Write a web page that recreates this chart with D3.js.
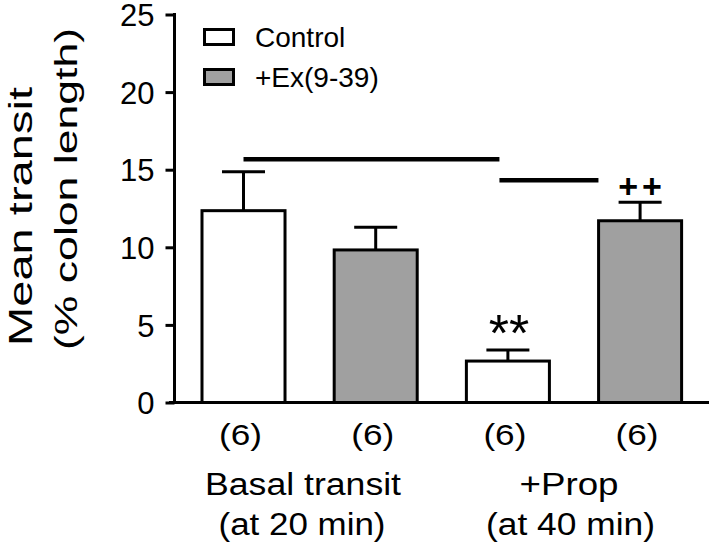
<!DOCTYPE html>
<html><head><meta charset="utf-8">
<script src="https://cdn.jsdelivr.net/npm/d3@7/dist/d3.min.js"></script>
<style>
html,body{margin:0;padding:0;background:#fff;}
svg text{font-family:"Liberation Sans",Arial,Helvetica,sans-serif;fill:#000;}
</style></head>
<body><svg id="c" width="709" height="545"></svg>
<script>
// ---- data ----
const categories = ["Basal-Control", "Basal-Ex", "Prop-Control", "Prop-Ex"];
const groups = ["Control", "+Ex(9-39)", "Control", "+Ex(9-39)"];
const means = [12.36, 9.83, 2.67, 11.71];
const sems = [2.51, 1.46, 0.71, 1.19];
const nLabels = ["(6)", "(6)", "(6)", "(6)"];
const yTicks = [0, 5, 10, 15, 20, 25];
const groupLabels1 = ["Basal transit", "+Prop"];
const groupLabels2 = ["(at 20 min)", "(at 40 min)"];
const legendLabels = ["Control", "+Ex(9-39)"];
const markers = ["", "", "**", "++"];
// significance bars: [from position, to position, y value] (positions in category units, 0 = first bar centre)
const sigFrom = [0, 1.936];
const sigTo = [1.936, 2.685];
const sigY = [15.67, 14.32];

const svg = d3.select("#c");
const fillColor = d3.scaleOrdinal().domain(legendLabels).range(["#ffffff", "#a0a0a0"]);

const x = d3.scaleBand().domain(categories).range([174.5, 709.1]).paddingInner(0.372).paddingOuter(0.208);
const y = d3.scaleLinear().domain([0, 25]).range([402.5, 14.5]);
const bw = x.bandwidth();
const cx = c => x(c) + bw / 2;
const posX = d3.scaleLinear().domain([0, 1]).range([cx(categories[0]), cx(categories[1])]);

// y axis
const yAxis = d3.axisLeft(y).tickValues(yTicks).tickSize(9).tickPadding(11).tickFormat(d3.format("d"));
const ya = svg.append("g").attr("transform", "translate(174.5,0)").call(yAxis);
ya.select(".domain").attr("stroke", "#000").attr("stroke-width", 3).attr("d", `M0,${y(25)-1.5}V${y(0)}`);
ya.selectAll(".tick line").attr("stroke", "#000").attr("stroke-width", 3);
ya.selectAll(".tick text").style("font-size", "31px").attr("dy", "0.36em");

// x baseline
svg.append("line").attr("x1", 169).attr("x2", 709).attr("y1", y(0)).attr("y2", y(0))
  .attr("stroke", "#000").attr("stroke-width", 3);

// bars
svg.selectAll("rect.bar").data(categories).enter().append("rect").attr("class", "bar")
  .attr("x", d => x(d)).attr("width", bw)
  .attr("y", (d, i) => y(means[i])).attr("height", (d, i) => y(0) - y(means[i]))
  .attr("fill", (d, i) => fillColor(groups[i])).attr("stroke", "#000").attr("stroke-width", 3);

// error bars
const capW = 43;
categories.forEach((c, i) => {
  svg.append("line").attr("x1", cx(c)).attr("x2", cx(c)).attr("y1", y(means[i])).attr("y2", y(means[i] + sems[i]))
    .attr("stroke", "#000").attr("stroke-width", 3);
  svg.append("line").attr("x1", cx(c) - capW / 2).attr("x2", cx(c) + capW / 2)
    .attr("y1", y(means[i] + sems[i])).attr("y2", y(means[i] + sems[i]))
    .attr("stroke", "#000").attr("stroke-width", 3);
});

// significance lines
sigY.forEach((v, i) => {
  svg.append("line").attr("x1", posX(sigFrom[i])).attr("x2", posX(sigTo[i])).attr("y1", y(v)).attr("y2", y(v))
    .attr("stroke", "#000").attr("stroke-width", 4.5);
});

// markers
svg.append("text").attr("x", cx(categories[2]) + 1).attr("y", 351).attr("text-anchor", "middle")
  .style("font-size", "52px").style("letter-spacing", "0px").text(markers[2]);
svg.append("text").attr("x", cx(categories[3]) + 2).attr("y", 198).attr("text-anchor", "middle")
  .style("font-size", "34px").style("font-weight", "bold").style("letter-spacing", "4px").text(markers[3]);

// n labels
categories.forEach((c, i) => {
  svg.append("text").attr("x", cx(c) - 3).attr("y", 445).attr("text-anchor", "middle")
    .style("font-size", "30px").attr("textLength", 43).attr("lengthAdjust", "spacingAndGlyphs").text(nLabels[i]);
});

// group labels
const gCenters1 = [303, 569];
const gW1 = [196, 99];
const gCenters2 = [302, 570.5];
const gW2 = [167, 169];
groupLabels1.forEach((t, i) => {
  svg.append("text").attr("x", gCenters1[i]).attr("y", 495).attr("text-anchor", "middle")
    .style("font-size", "31px").attr("textLength", gW1[i]).attr("lengthAdjust", "spacingAndGlyphs").text(t);
});
groupLabels2.forEach((t, i) => {
  svg.append("text").attr("x", gCenters2[i]).attr("y", 535).attr("text-anchor", "middle")
    .style("font-size", "31px").attr("textLength", gW2[i]).attr("lengthAdjust", "spacingAndGlyphs").text(t);
});

// y title
svg.append("text").attr("transform", "translate(32,346) rotate(-90)").attr("text-anchor", "start")
  .style("font-size", "33px").attr("textLength", 259).attr("lengthAdjust", "spacingAndGlyphs").text("Mean transit");
svg.append("text").attr("transform", "translate(77,350) rotate(-90)").attr("text-anchor", "start")
  .style("font-size", "32px").attr("textLength", 322).attr("lengthAdjust", "spacingAndGlyphs").text("(% colon length)");

// legend
legendLabels.forEach((t, i) => {
  const yy = 29.5 + i * 40;
  svg.append("rect").attr("x", 204.5).attr("y", yy).attr("width", 29).attr("height", 15)
    .attr("fill", fillColor(t)).attr("stroke", "#000").attr("stroke-width", 3);
  svg.append("text").attr("x", 255).attr("y", yy + 17).style("font-size", "28px").text(t);
});
</script></body></html>
